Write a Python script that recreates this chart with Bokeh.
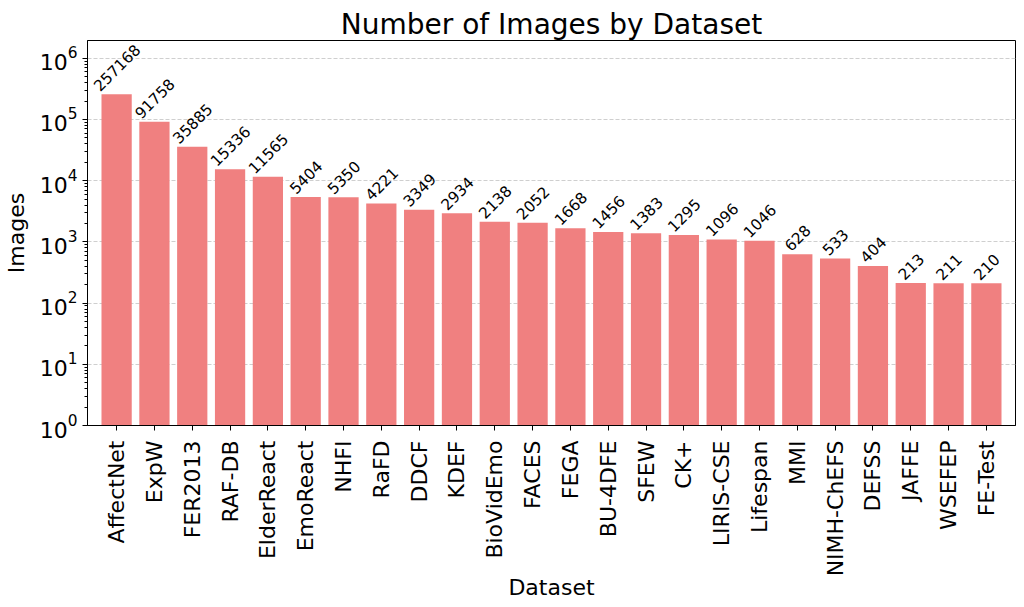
import math
from bokeh.plotting import figure
from bokeh.models import ColumnDataSource, FactorRange, FixedTicker, Range1d
from bokeh.core.properties import value
from bokeh.embed import file_html
from bokeh.resources import INLINE

datasets = ["AffectNet", "ExpW", "FER2013", "RAF-DB", "ElderReact", "EmoReact", "NHFI",
            "RaFD", "DDCF", "KDEF", "BioVidEmo", "FACES", "FEGA", "BU-4DFE", "SFEW", "CK+",
            "LIRIS-CSE", "Lifespan", "MMI", "NIMH-ChEFS", "DEFSS", "JAFFE", "WSEFEP", "FE-Test"]
images = [257168, 91758, 35885, 15336, 11565, 5404, 5350, 4221, 3349, 2934, 2138, 2052,
          1668, 1456, 1383, 1295, 1096, 1046, 628, 533, 404, 213, 211, 210]

FONT = "DejaVu Sans"
label_fs = 15.3
labels = [str(v) for v in images]
# emulate matplotlib's rotated (45deg) text with ha=center, va=bottom
yoff = [-(len(s) * 0.636 * label_fs + 1.164 * label_fs) * 0.3536 for s in labels]

src = ColumnDataSource(dict(cat=datasets, val=images, label=labels, yoff=yoff))

Y_BOTTOM, Y_TOP = 1, 1.95e6

p = figure(width=1020, height=606, output_backend="svg", toolbar_location=None,
           x_range=FactorRange(factors=datasets, range_padding=0.27, range_padding_units="absolute"),
           y_axis_type="log", y_range=Range1d(Y_BOTTOM, Y_TOP),
           title="Number of Images by Dataset",
           min_border_left=85, min_border_right=5, min_border_top=40, min_border_bottom=181)

p.vbar(x="cat", top="val", bottom=Y_BOTTOM, width=0.8, source=src,
       fill_color="#F08080", line_color=None)

p.text(x="cat", y="val", text="label", source=src, angle=math.pi / 4,
       text_align="center", text_baseline="middle", y_offset="yoff",
       text_font=value(FONT), text_font_size=f"{label_fs}px", text_color="black")

p.title.text_font = FONT
p.title.text_font_size = "28px"
p.title.text_font_style = "normal"
p.title.text_color = "black"
p.title.align = "center"
p.title.standoff = 0

majors = [10 ** k for k in range(0, 7)]
minors = [m * 10 ** k for k in range(0, 7) for m in range(2, 10)]
p.yaxis.ticker = FixedTicker(ticks=majors, minor_ticks=minors)

for ax in (p.xaxis[0], p.yaxis[0]):
    ax.major_label_text_font = FONT
    ax.major_label_text_font_size = "22px"
    ax.major_label_text_color = "black"
    ax.axis_label_text_font = FONT
    ax.axis_label_text_font_size = "22px"
    ax.axis_label_text_font_style = "normal"
    ax.axis_label_text_color = "black"
    ax.axis_line_color = "black"
    ax.major_tick_line_color = "black"
    ax.minor_tick_line_color = "black"
    ax.major_tick_in = 0
    ax.major_tick_out = 5
    ax.minor_tick_in = 0
    ax.minor_tick_out = 3

p.xaxis.axis_label = "Dataset"
p.yaxis.axis_label = "Images"
p.xaxis.major_label_orientation = math.pi / 2
p.xaxis.major_label_standoff = 10
p.xaxis.axis_label_standoff = -4
p.yaxis.major_label_standoff = 5
p.yaxis.axis_label_standoff = 8

p.xgrid.grid_line_color = None
p.ygrid.grid_line_color = "#cfcfcf"
p.ygrid.grid_line_dash = "4 2"
p.ygrid.grid_line_width = 1

p.outline_line_color = "black"
p.outline_line_width = 1
p.background_fill_color = "white"
p.border_fill_color = "white"

open("out.html", "w").write(file_html(p, INLINE))
